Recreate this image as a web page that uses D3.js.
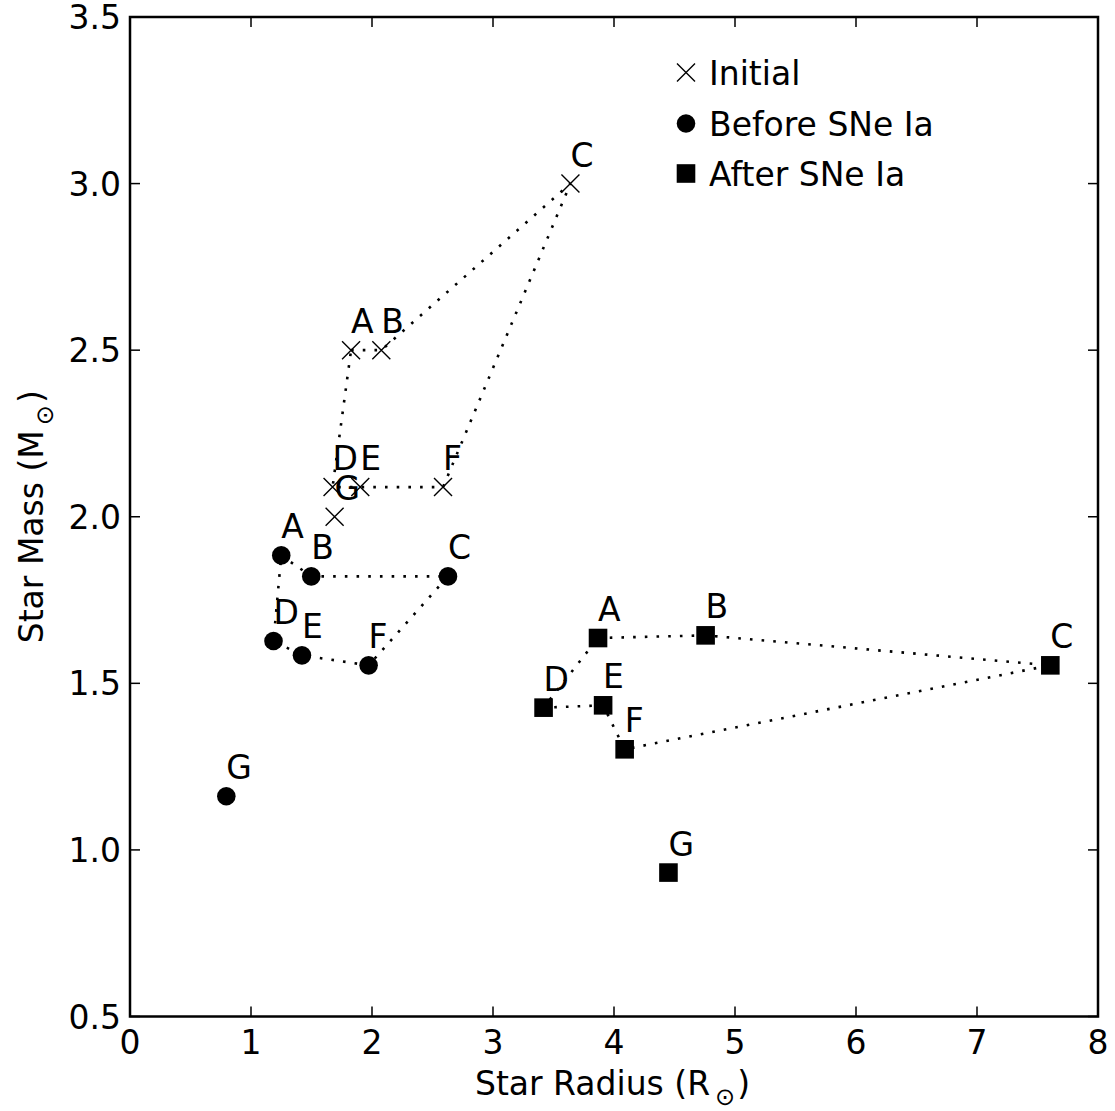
<!DOCTYPE html>
<html>
<head>
<meta charset="utf-8">
<script src="https://cdn.jsdelivr.net/npm/d3@7"></script>
<style>
  html, body { margin: 0; padding: 0; background: #fff; }
  svg { display: block; }
  text { font-family: "DejaVu Sans", sans-serif; fill: #000; }
</style>
</head>
<body>
<svg id="chart" width="1115" height="1111"></svg>
<script>
// ---- Data ----
const labels = ["A", "B", "C", "D", "E", "F", "G"];
const initialX = [1.827, 2.077, 3.64, 1.674, 1.903, 2.587, 1.691];
const initialY = [2.50, 2.50, 3.00, 2.089, 2.089, 2.089, 2.00];
const beforeX = [1.250, 1.498, 2.628, 1.186, 1.421, 1.972, 0.796];
const beforeY = [1.884, 1.821, 1.821, 1.627, 1.584, 1.554, 1.161];
const afterX = [3.868, 4.757, 7.606, 3.418, 3.910, 4.088, 4.450];
const afterY = [1.636, 1.644, 1.554, 1.427, 1.434, 1.302, 0.932];
const loopOrder = ["A", "B", "C", "F", "E", "D", "A"];
const xTicks = [0, 1, 2, 3, 4, 5, 6, 7, 8];
const yTicks = [0.5, 1.0, 1.5, 2.0, 2.5, 3.0, 3.5];
const legendNames = ["Initial", "Before SNe Ia", "After SNe Ia"];

const series = [
  { name: "Initial", marker: "x", xs: initialX, ys: initialY },
  { name: "Before SNe Ia", marker: "o", xs: beforeX, ys: beforeY },
  { name: "After SNe Ia", marker: "s", xs: afterX, ys: afterY }
];

// ---- Layout ----
const L = 130, R = 1098, T = 17, B = 1016.5;
const FS = 33;
const svg = d3.select("#chart");
const x = d3.scaleLinear().domain([0, 8]).range([L, R]);
const y = d3.scaleLinear().domain([0.5, 3.5]).range([B, T]);

function drawMarker(g, type, cx, cy) {
  if (type === "x") {
    const h = 9;
    g.append("path")
      .attr("d", `M${cx - h},${cy - h}L${cx + h},${cy + h}M${cx - h},${cy + h}L${cx + h},${cy - h}`)
      .attr("stroke", "#000").attr("stroke-width", 1.4).attr("fill", "none");
  } else if (type === "o") {
    g.append("circle").attr("cx", cx).attr("cy", cy).attr("r", 9.3).attr("fill", "#000");
  } else {
    const h = 9.3;
    g.append("rect").attr("x", cx - h).attr("y", cy - h).attr("width", 2 * h).attr("height", 2 * h).attr("fill", "#000");
  }
}

// Dotted loops
const line = d3.line().x(d => x(d[0])).y(d => y(d[1]));
series.forEach(s => {
  const pts = loopOrder.map(l => {
    const i = labels.indexOf(l);
    return [s.xs[i], s.ys[i]];
  });
  svg.append("path").attr("d", line(pts))
    .attr("fill", "none").attr("stroke", "#000")
    .attr("stroke-width", 2.6).attr("stroke-dasharray", "2.6 9.1");
});

// Markers and labels
series.forEach(s => {
  const g = svg.append("g");
  labels.forEach((lab, i) => {
    drawMarker(g, s.marker, x(s.xs[i]), y(s.ys[i]));
  });
  labels.forEach((lab, i) => {
    g.append("text").attr("x", x(s.xs[i])).attr("y", y(s.ys[i]) - 17)
      .attr("font-size", FS).text(lab);
  });
});

// Axes (ticks inward on all sides)
const axG = svg.append("g");
const tickLen = 10;
xTicks.forEach(t => {
  const px = x(t);
  axG.append("line").attr("x1", px).attr("x2", px).attr("y1", B).attr("y2", B - tickLen)
    .attr("stroke", "#000").attr("stroke-width", 1.5);
  axG.append("line").attr("x1", px).attr("x2", px).attr("y1", T).attr("y2", T + tickLen)
    .attr("stroke", "#000").attr("stroke-width", 1.5);
  axG.append("text").attr("x", px).attr("y", B + 37).attr("text-anchor", "middle")
    .attr("font-size", FS).text(d3.format("d")(t));
});
yTicks.forEach(t => {
  const py = y(t);
  axG.append("line").attr("x1", L).attr("x2", L + tickLen).attr("y1", py).attr("y2", py)
    .attr("stroke", "#000").attr("stroke-width", 1.5);
  axG.append("line").attr("x1", R).attr("x2", R - tickLen).attr("y1", py).attr("y2", py)
    .attr("stroke", "#000").attr("stroke-width", 1.5);
  axG.append("text").attr("x", L - 9).attr("y", py + 12).attr("text-anchor", "end")
    .attr("font-size", FS).text(d3.format(".1f")(t));
});
axG.append("rect").attr("x", L).attr("y", T).attr("width", R - L).attr("height", B - T)
  .attr("fill", "none").attr("stroke", "#000").attr("stroke-width", 2.5);

// Axis titles
const xt = svg.append("text").attr("x", 612.5).attr("y", 1095)
  .attr("text-anchor", "middle").attr("font-size", FS);
xt.append("tspan").text("Star Radius (R");
xt.append("tspan").attr("font-size", 24).attr("dy", 10).attr("dx", 5).text("\u2299");
xt.append("tspan").attr("dy", -10).attr("dx", 2).text(")");

const yt = svg.append("text")
  .attr("transform", `translate(42.5,${(T + B) / 2}) rotate(-90)`)
  .attr("text-anchor", "middle").attr("font-size", FS);
yt.append("tspan").text("Star Mass (M");
yt.append("tspan").attr("font-size", 24).attr("dy", 10).attr("dx", 5).text("\u2299");
yt.append("tspan").attr("dy", -10).attr("dx", 2).text(")");

// Legend
const lg = svg.append("g");
const legY = [72.5, 123.5, 173.5];
series.forEach((s, i) => {
  drawMarker(lg, s.marker, 686, legY[i]);
  lg.append("text").attr("x", 709).attr("y", legY[i] + 12.5)
    .attr("font-size", FS).text(legendNames[i]);
});
</script>
</body>
</html>
